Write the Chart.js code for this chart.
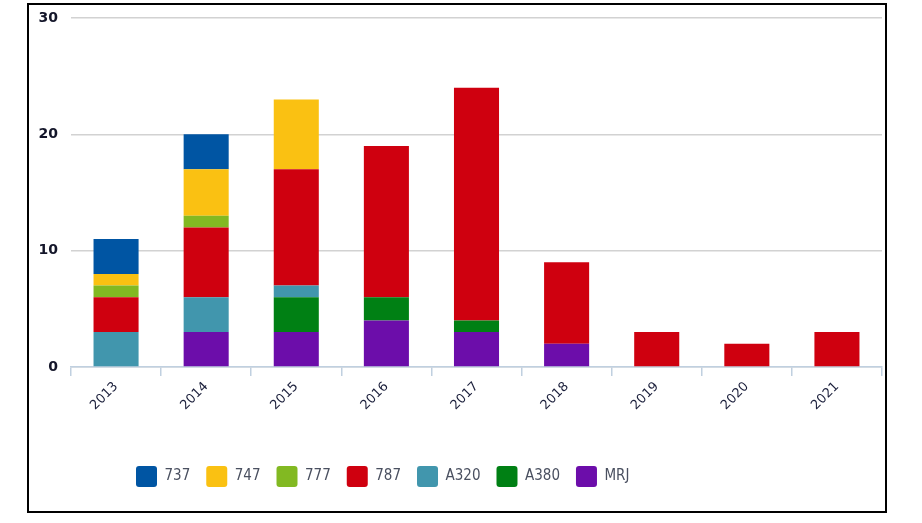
<!DOCTYPE html>
<html>
<head>
<meta charset="utf-8">
<script src="https://cdn.jsdelivr.net/npm/chart.js@4"></script>
<style>
  html, body { margin: 0; padding: 0; background: #fff; }
  #wrap { position: relative; width: 922px; height: 523px; }
  #frame { position: absolute; left: 27px; top: 3px; width: 860px; height: 510px; box-sizing: border-box; border: 2px solid #000; pointer-events: none; }
  canvas { position: absolute; left: 0; top: 0; }
</style>
</head>
<body>
<div id="wrap">
  <canvas id="c" width="922" height="523"></canvas>
  <div id="frame"></div>
</div>
<script>
const years = ['2013', '2014', '2015', '2016', '2017', '2018', '2019', '2020', '2021'];
const yTicks = [0, 10, 20, 30];
// series (stack bottom -> top)
const mrj  = [0, 3, 3, 4, 3, 2, 0, 0, 0];
const a380 = [0, 0, 3, 2, 1, 0, 0, 0, 0];
const a320 = [3, 3, 1, 0, 0, 0, 0, 0, 0];
const b787 = [3, 6, 10, 13, 20, 7, 3, 2, 3];
const b777 = [1, 1, 0, 0, 0, 0, 0, 0, 0];
const b747 = [1, 4, 6, 0, 0, 0, 0, 0, 0];
const b737 = [3, 3, 0, 0, 0, 0, 0, 0, 0];

const seriesNames = ['MRJ', 'A380', 'A320', '787', '777', '747', '737'];
const seriesData = [mrj, a380, a320, b787, b777, b747, b737];
const seriesColors = ['#6c0daa', '#008014', '#4196ad', '#cf000f', '#82b922', '#fac112', '#0055a3'];

const datasets = seriesNames.map((n, i) => ({
  label: n,
  data: seriesData[i],
  backgroundColor: seriesColors[i],
  borderWidth: 0,
  categoryPercentage: 0.5,
  barPercentage: 1
}));

const legendShift = {
  id: 'legendShift',
  afterLayout(chart) {
    if (chart.legend) { chart.legend.left = 120; }
  }
};

new Chart(document.getElementById('c'), {
  type: 'bar',
  data: { labels: years, datasets },
  plugins: [legendShift],
  options: {
    responsive: false,
    animation: false,
    layout: { padding: { left: 0, right: 40, top: 18, bottom: 26 } },
    plugins: {
      tooltip: { enabled: false },
      legend: {
        position: 'bottom',
        align: 'start',
        reverse: true,
        labels: {
          boxWidth: 21,
          boxHeight: 21,
          padding: 16,
          useBorderRadius: true,
          borderRadius: 3,
          color: '#4a5060',
          font: { family: '"Liberation Sans Narrow", "DejaVu Sans Condensed", "Liberation Sans", sans-serif', size: 15 }
        }
      }
    },
    scales: {
      x: {
        stacked: true,
        afterFit(s) { s.height = 83; },
        grid: { offset: true, drawOnChartArea: false, drawTicks: true, tickLength: 9, color: '#c0d0e0', lineWidth: 1.5 },
        border: { display: true, color: '#c0d0e0', width: 1.5 },
        ticks: {
          maxRotation: 45, minRotation: 45, padding: 3,
          color: '#1a1e3a',
          font: { family: '"DejaVu Sans", Verdana, sans-serif', size: 13 }
        }
      },
      y: {
        stacked: true,
        min: 0, max: 30,
        afterFit(s) { s.width = 71; s.paddingTop = 0; s.paddingBottom = 0; },
        afterBuildTicks(s) { s.ticks = yTicks.map(v => ({ value: v })); },
        grid: { drawTicks: false, color: '#d2d2d2', lineWidth: 1.5 },
        border: { display: false },
        ticks: {
          padding: 13,
          color: '#14162a',
          font: { family: '"DejaVu Sans", Verdana, sans-serif', size: 14, weight: 'bold' }
        }
      }
    }
  }
});
</script>
</body>
</html>
